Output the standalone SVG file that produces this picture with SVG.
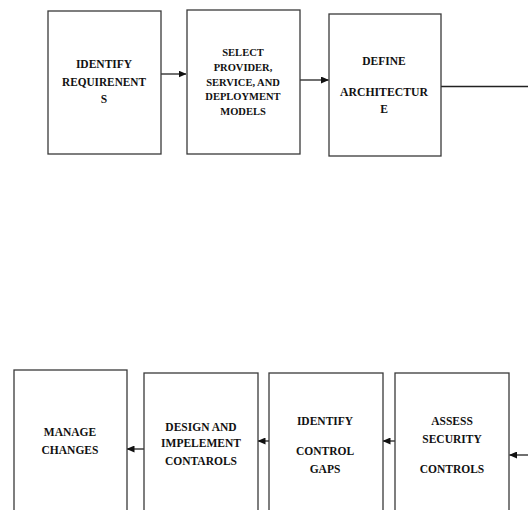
<svg xmlns="http://www.w3.org/2000/svg" width="528" height="510" viewBox="0 0 528 510">
<style>
.box{fill:#fff;stroke:#3a3a3a;stroke-width:1.3}
.t{font-family:"Liberation Serif","Times New Roman",serif;font-weight:bold;font-size:11.5px;fill:#111;text-anchor:middle}
.s{font-size:10.5px}
.c{stroke:#222;stroke-width:1.3;fill:none}
</style>
<defs>
<marker id="ah" markerWidth="8" markerHeight="7" refX="7.5" refY="3.5" orient="auto" markerUnits="userSpaceOnUse">
<path d="M0,0 L8,3.5 L0,7 Z" fill="#111"/>
</marker>
</defs>
<rect width="528" height="510" fill="#fff"/>
<g id="connectors">
<line class="c" x1="161" y1="74" x2="186" y2="74" marker-end="url(#ah)"/>
<line class="c" x1="300" y1="80" x2="328.5" y2="80" marker-end="url(#ah)"/>
<line class="c" x1="441" y1="86.5" x2="528" y2="86.5"/>
<line class="c" x1="528" y1="455" x2="509.5" y2="455" marker-end="url(#ah)"/>
<line class="c" x1="395" y1="441" x2="383" y2="441" marker-end="url(#ah)"/>
<line class="c" x1="269" y1="441" x2="258" y2="441" marker-end="url(#ah)"/>
<line class="c" x1="144" y1="449" x2="127" y2="449" marker-end="url(#ah)"/>
</g>
<g id="identify-requirements">
<rect class="box" x="48" y="11" width="113" height="143"/>
<text class="t" x="104" y="68">IDENTIFY</text>
<text class="t" x="104" y="86" textLength="84" lengthAdjust="spacingAndGlyphs">REQUIRENENT</text>
<text class="t" x="104" y="103">S</text>
</g>
<g id="select-provider">
<rect class="box" x="187" y="10" width="113" height="144"/>
<text class="t s" x="243" y="56">SELECT</text>
<text class="t s" x="243" y="71">PROVIDER,</text>
<text class="t s" x="243" y="86">SERVICE, AND</text>
<text class="t s" x="243" y="100">DEPLOYMENT</text>
<text class="t s" x="243" y="115">MODELS</text>
</g>
<g id="define-architecture">
<rect class="box" x="329" y="14" width="112" height="142"/>
<text class="t" x="384" y="65">DEFINE</text>
<text class="t" x="384" y="96" textLength="88" lengthAdjust="spacingAndGlyphs">ARCHITECTUR</text>
<text class="t" x="384" y="113">E</text>
</g>
<g id="manage-changes">
<rect class="box" x="14" y="370" width="113" height="150"/>
<text class="t" x="70" y="436">MANAGE</text>
<text class="t" x="70" y="454">CHANGES</text>
</g>
<g id="design-implement">
<rect class="box" x="144" y="373" width="114" height="150"/>
<text class="t" x="201" y="431">DESIGN AND</text>
<text class="t" x="201" y="447">IMPELEMENT</text>
<text class="t" x="201" y="465">CONTAROLS</text>
</g>
<g id="identify-gaps">
<rect class="box" x="269" y="373" width="114" height="150"/>
<text class="t" x="325" y="425">IDENTIFY</text>
<text class="t" x="325" y="455">CONTROL</text>
<text class="t" x="325" y="473">GAPS</text>
</g>
<g id="assess-controls">
<rect class="box" x="395" y="373" width="114" height="150"/>
<text class="t" x="452" y="425">ASSESS</text>
<text class="t" x="452" y="443">SECURITY</text>
<text class="t" x="452" y="473">CONTROLS</text>
</g>
</svg>
